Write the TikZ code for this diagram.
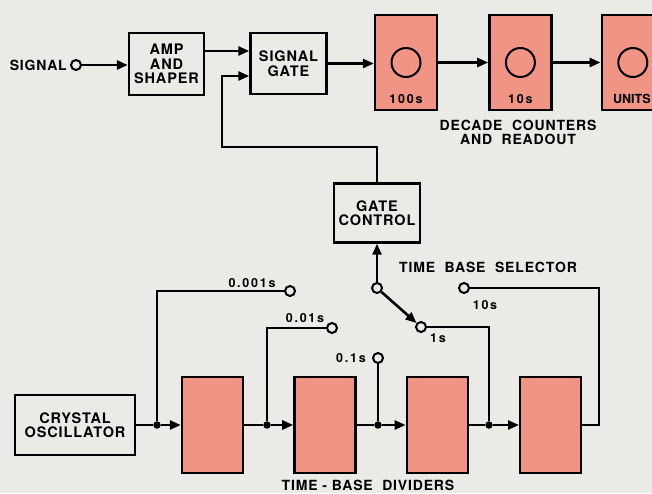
\documentclass[tikz,border=0pt]{standalone}
\usepackage{fontspec}
\setmainfont{TeX Gyre Heros}
\newfontfamily\spacedfont[LetterSpace=6]{TeX Gyre Heros}
\newfontfamily\widefont[LetterSpace=14]{TeX Gyre Heros}
\usepackage{tikz}
\usetikzlibrary{arrows.meta, positioning}
\definecolor{paper}{RGB}{234,234,231}
\definecolor{ctrsalmon}{RGB}{240,148,134}

\begin{document}
\begin{tikzpicture}[
    x=1pt, y=-1pt,
    box/.style={rectangle, draw, line width=2.4pt, fill=paper, align=center, inner sep=0pt, font=\fontsize{14.5}{14.5}\selectfont\spacedfont\bfseries},
    counter/.style={rectangle, draw, line width=2.4pt, fill=ctrsalmon, minimum width=62pt, minimum height=95pt, inner sep=0pt},
    divider/.style={rectangle, draw, line width=2.4pt, fill=ctrsalmon, minimum width=61pt, minimum height=96pt, inner sep=0pt},
    term/.style={circle, draw, line width=2pt, fill=paper, minimum size=10pt, inner sep=0pt},
    junc/.style={circle, fill=black, minimum size=7.5pt, inner sep=0pt},
    lbl/.style={font=\fontsize{12.5}{13}\selectfont\widefont\bfseries, inner sep=1pt},
    big/.style={font=\fontsize{14}{14}\selectfont\spacedfont\bfseries, inner sep=1pt, align=center},
    arrow/.style={-{Triangle[length=11pt,width=9pt]}, line width=2.6pt},
    wire/.style={line width=2.6pt}
]
    \useasboundingbox (0,0) rectangle (652,493);
    \clip (0,0) rectangle (652,493);
    \fill[paper] (0,0) rectangle (652,493);

    % input side
    \node[term] (sigin) at (76,65) {};
    \node[big, left=2pt of sigin] (siglbl) {SIGNAL};
    \node[box, minimum width=75pt, minimum height=62pt] (amp) at (166.5,64) {AMP\\AND\\SHAPER};
    \node[box, minimum width=76pt, minimum height=61pt] (sgate) at (288.5,63.5) {SIGNAL\\GATE};
    \coordinate (gin1) at ([yshift=12.5pt]sgate.west);
    \coordinate (gin2) at ([yshift=-12.5pt]sgate.west);

    % decade counters
    \node[counter] (c100) at (406,62.5) {};
    \node[counter, right=50pt of c100] (c10) {};
    \node[counter, right=48pt of c10] (cunit) {};
    \foreach \c in {c100, c10, cunit}
        \draw[line width=2pt] (\c.center) circle (14.5pt);
    \node[lbl] (l100) at ([yshift=12pt]c100.south) {100s};
    \node[lbl] (l10) at ([yshift=12pt]c10.south) {10s};
    \node[lbl, font=\fontsize{12.5}{13}\selectfont\bfseries] (lunit) at ([xshift=-1pt,yshift=12pt]cunit.south) {UNITS};
    \node[big] (decade) at (518,132) {DECADE\ \ COUNTERS\\AND\ \ READOUT};

    \draw[arrow] (sigin) -- (amp.west |- sigin);
    \draw[arrow] (amp.east |- gin1) -- (gin1);
    \draw[arrow] (sgate.east) -- (c100.west |- sgate.east);
    \draw[arrow] (c100) -- (c10);
    \draw[arrow] (c10) -- (cunit);

    % gate control and selector
    \node[box, minimum width=86pt, minimum height=59pt] (gctl) at (377,213) {GATE\\CONTROL};
    \coordinate (fbk) at (222,147);
    \draw[arrow] (gctl.north) |- (fbk) |- (gin2);
    \node[big] (tbsel) at (488,267) {TIME\ \ BASE\ \ SELECTOR};

    % time base
    \node[box, minimum width=120pt, minimum height=60pt] (xtal) at (75,425) {CRYSTAL\\OSCILLATOR};
    \node[divider] (div1) at (212.5,425) {};
    \node[divider, right=49pt of div1] (div2) {};
    \node[divider, right=49pt of div2] (div3) {};
    \node[divider, right=50pt of div3] (div4) {};
    \node[junc] (j1) at (157,425) {};
    \node[junc] (j2) at (267,425) {};
    \node[junc] (j3) at (378,425) {};
    \node[junc] (j4) at (489,425) {};

    \node[term] (t001) at (290,291) {};
    \node[term] (t01) at (332,328) {};
    \node[term] (t1) at (378,358) {};
    \node[term] (ts1) at (421,327) {};
    \node[term] (t10) at (464,288) {};
    \node[term] (pivot) at (377,288) {};
    \coordinate (ret) at (599,288);

    \node[lbl] (l001) at (252,283) {0.001s};
    \node[lbl] (l01) at (305,318) {0.01s};
    \node[lbl] (l1) at (351,358) {0.1s};
    \node[lbl] (ls1) at (438,338) {1s};
    \node[lbl] (l10s) at (485,305) {10s};
    \node[big] (tbdiv) at (368,485) {TIME\ -\ BASE\ \ DIVIDERS};

    \draw[wire] (xtal.east) -- (j1);
    \draw[arrow] (j1) -- (div1);
    \draw[wire] (div1) -- (j2);
    \draw[arrow] (j2) -- (div2);
    \draw[wire] (div2) -- (j3);
    \draw[arrow] (j3) -- (div3);
    \draw[wire] (div3) -- (j4);
    \draw[arrow] (j4) -- (div4);

    \draw[wire] (j1) |- (t001);
    \draw[wire] (j2) |- (t01);
    \draw[wire] (j3) -- (t1);
    \draw[wire] (j4) |- (ts1);
    \draw[wire] (div4.east) -| (ret) -- (t10);

    \draw[arrow] (pivot) -- (gctl.south);
    \draw[arrow] (pivot) -- (ts1);
\end{tikzpicture}
\end{document}
